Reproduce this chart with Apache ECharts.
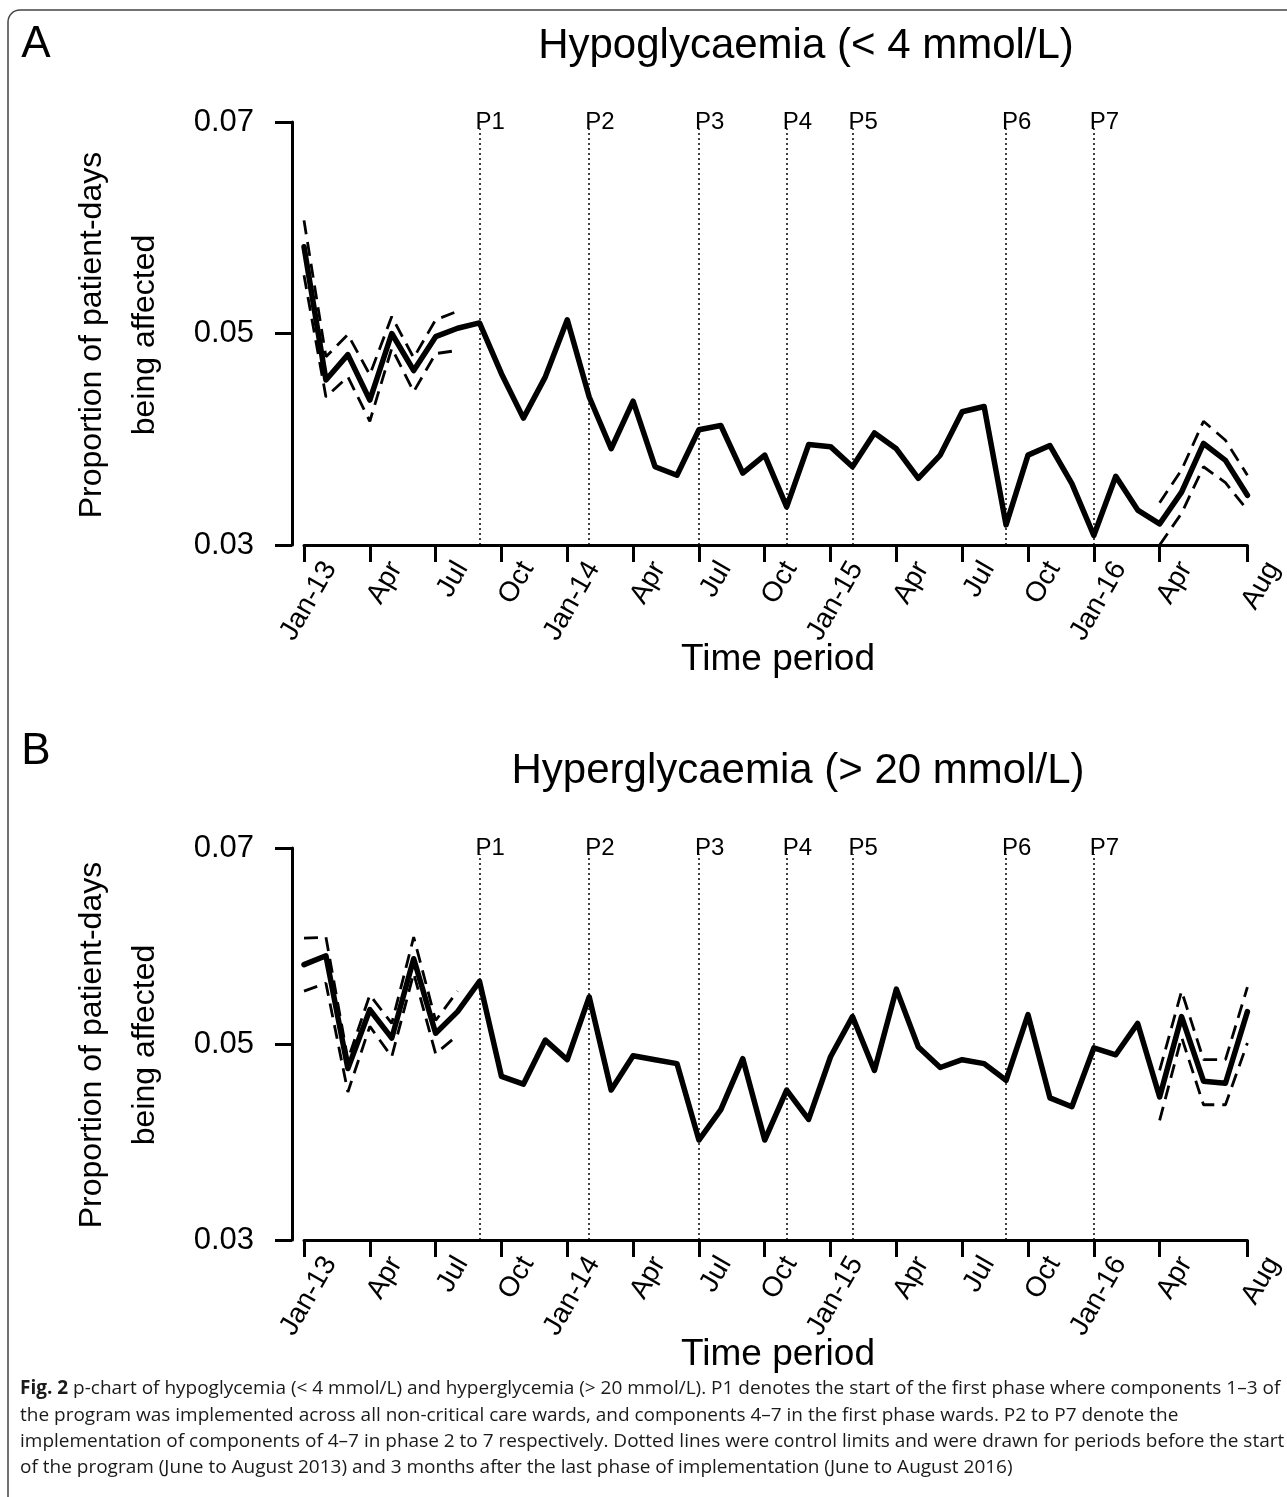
<!DOCTYPE html>
<html>
<head>
<meta charset="utf-8">
<script src="https://cdn.jsdelivr.net/npm/echarts@6/dist/echarts.min.js"></script>
<style>
  html, body { margin: 0; background: #fff; }
  #chart { width: 1287px; height: 1497px; }
</style>
</head>
<body>
<div id="chart"></div>
<script>
// months Jan-13 .. Aug-16
const months = [
  'Jan-13', 'Feb-13', 'Mar-13', 'Apr-13', 'May-13', 'Jun-13', 'Jul-13', 'Aug-13', 'Sep-13', 'Oct-13', 'Nov-13', 'Dec-13',
  'Jan-14', 'Feb-14', 'Mar-14', 'Apr-14', 'May-14', 'Jun-14', 'Jul-14', 'Aug-14', 'Sep-14', 'Oct-14', 'Nov-14', 'Dec-14',
  'Jan-15', 'Feb-15', 'Mar-15', 'Apr-15', 'May-15', 'Jun-15', 'Jul-15', 'Aug-15', 'Sep-15', 'Oct-15', 'Nov-15', 'Dec-15',
  'Jan-16', 'Feb-16', 'Mar-16', 'Apr-16', 'May-16', 'Jun-16', 'Jul-16', 'Aug-16'
];
const tickIndex = [0, 3, 6, 9, 12, 15, 18, 21, 24, 27, 30, 33, 36, 39, 43];
const tickText = ['Jan-13', 'Apr', 'Jul', 'Oct', 'Jan-14', 'Apr', 'Jul', 'Oct', 'Jan-15', 'Apr', 'Jul', 'Oct', 'Jan-16', 'Apr', 'Aug'];

const phaseIndex = [8, 13, 18, 22, 25, 32, 36];
const phaseText = ['P1', 'P2', 'P3', 'P4', 'P5', 'P6', 'P7'];

const _ = null;

// A: hypoglycaemia
const hypoRate = [
  0.0582, 0.0456, 0.0480, 0.0437, 0.0500, 0.0465, 0.0497, 0.0505, 0.0510, 0.0462, 0.0420, 0.0459,
  0.0513, 0.0440, 0.0391, 0.0436, 0.0374, 0.0366, 0.0409, 0.0413, 0.0368, 0.0385, 0.0336, 0.0395,
  0.0393, 0.0374, 0.0406, 0.0391, 0.0363, 0.0385, 0.0426, 0.0431, 0.0319, 0.0385, 0.0394, 0.0358,
  0.0309, 0.0365, 0.0333, 0.0320, 0.0350, 0.0396, 0.0380, 0.0347
];
const hypoUcl = [
  0.0607, 0.0478, 0.0499, 0.0461, 0.0516, 0.0477, 0.0513, 0.0521, _, _, _, _,
  _, _, _, _, _, _, _, _, _, _, _, _,
  _, _, _, _, _, _, _, _, _, _, _, _,
  _, _, _, 0.0340, 0.0371, 0.0417, 0.0399, 0.0366
];
const hypoLcl = [
  0.0555, 0.0440, 0.0459, 0.0417, 0.0486, 0.0445, 0.0481, 0.0484, _, _, _, _,
  _, _, _, _, _, _, _, _, _, _, _, _,
  _, _, _, _, _, _, _, _, _, _, _, _,
  _, _, _, 0.0300, 0.0330, 0.0374, 0.0359, 0.0333
];

// B: hyperglycaemia
const hyperRate = [
  0.0581, 0.0590, 0.0475, 0.0535, 0.0506, 0.0587, 0.0511, 0.0533, 0.0564, 0.0467, 0.0459, 0.0504,
  0.0484, 0.0548, 0.0453, 0.0488, 0.0484, 0.0480, 0.0402, 0.0433, 0.0485, 0.0402, 0.0453, 0.0423,
  0.0487, 0.0528, 0.0473, 0.0556, 0.0497, 0.0476, 0.0484, 0.0480, 0.0463, 0.0530, 0.0445, 0.0436,
  0.0496, 0.0489, 0.0521, 0.0446, 0.0528, 0.0462, 0.0460, 0.0533
];
const hyperUcl = [
  0.0608, 0.0609, 0.0484, 0.0550, 0.0521, 0.0609, 0.0524, 0.0554, _, _, _, _,
  _, _, _, _, _, _, _, _, _, _, _, _,
  _, _, _, _, _, _, _, _, _, _, _, _,
  _, _, _, 0.0473, 0.0554, 0.0484, 0.0484, 0.0558
];
const hyperLcl = [
  0.0554, 0.0562, 0.0451, 0.0518, 0.0487, 0.0572, 0.0490, 0.0509, _, _, _, _,
  _, _, _, _, _, _, _, _, _, _, _, _,
  _, _, _, _, _, _, _, _, _, _, _, _,
  _, _, _, 0.0422, 0.0507, 0.0438, 0.0438, 0.0501
];

const FONT = '"Liberation Sans", Arial, sans-serif';
const CAP_FONT = '"Open Sans", "Noto Sans", sans-serif';
const chart = echarts.init(document.getElementById('chart'));

const grids = [
  { left: 304, width: 946, top: 122, height: 423 },
  { left: 304, width: 946, top: 848, height: 392 }
];

const xAxisFor = k => ({
  type: 'category',
  gridIndex: k,
  data: months,
  boundaryGap: false,
  axisLine: { lineStyle: { color: '#000', width: 3 } },
  axisTick: {
    interval: i => tickIndex.includes(i),
    length: 17,
    lineStyle: { color: '#000', width: 3 }
  },
  axisLabel: {
    interval: i => tickIndex.includes(i),
    formatter: (v, i) => tickText[tickIndex.indexOf(i)],
    rotate: 60,
    margin: 4,
    verticalAlign: 'top',
    padding: [16, 0, 0, 0],
    color: '#000',
    fontSize: 28,
    fontFamily: FONT
  },
  splitLine: { show: false }
});

const yAxisFor = k => ({
  type: 'value',
  gridIndex: k,
  min: 0.03,
  max: 0.07,
  interval: 0.02,
  offset: 12,
  axisLine: { show: true, lineStyle: { color: '#000', width: 3 } },
  axisTick: { show: true, length: 17, lineStyle: { color: '#000', width: 3 } },
  axisLabel: {
    margin: 38,
    color: '#000',
    fontSize: 31,
    fontFamily: FONT,
    formatter: v => v.toFixed(2)
  },
  splitLine: { show: false }
});

const panelSeries = (k, rate, ucl, lcl) => [
  {
    type: 'line',
    xAxisIndex: k,
    yAxisIndex: k,
    data: rate,
    symbol: 'none',
    z: 4,
    lineStyle: { color: '#000', width: 5.5, join: 'round', cap: 'round' },
    markLine: {
      silent: true,
      symbol: 'none',
      animation: false,
      lineStyle: { color: '#000', width: 1.5, type: [2, 3] },
      label: {
        show: true,
        position: 'end',
        distance: -6,
        offset: [-4, 0],
        formatter: '{b}',
        color: '#000',
        fontSize: 24,
        fontFamily: FONT,
        align: 'left'
      },
      data: phaseIndex.map((idx, j) => [
        { coord: [months[idx], 0.03], name: phaseText[j] },
        { coord: [months[idx], 0.0694] }
      ])
    }
  },
  ...[ucl, lcl].map(lim => ({
    type: 'line',
    xAxisIndex: k,
    yAxisIndex: k,
    data: lim,
    symbol: 'none',
    connectNulls: false,
    z: 3,
    lineStyle: { color: '#000', width: 2.8, type: [14, 8] }
  }))
];

const txt = (x, y, text, size, extra) => ({
  type: 'text',
  x, y,
  style: Object.assign({
    text,
    fill: '#000',
    font: `${size}px ${FONT}`,
    align: 'center',
    verticalAlign: 'middle'
  }, extra || {})
});

const yName = cy => [
  Object.assign(txt(92, cy, 'Proportion of patient-days', 32), { rotation: Math.PI / 2 }),
  Object.assign(txt(145, cy, 'being affected', 32), { rotation: Math.PI / 2 })
];

const captionLines = [
  '{b|Fig. 2} p-chart of hypoglycemia (< 4 mmol/L) and hyperglycemia (> 20 mmol/L). P1 denotes the start of the first phase where components 1–3 of',
  'the program was implemented across all non-critical care wards, and components 4–7 in the first phase wards. P2 to P7 denote the',
  'implementation of components of 4–7 in phase 2 to 7 respectively. Dotted lines were control limits and were drawn for periods before the start',
  'of the program (June to August 2013) and 3 months after the last phase of implementation (June to August 2016)'
];

const caption = captionLines.map((line, i) => ({
  type: 'text',
  x: 20,
  y: 1389 + i * 26.3,
  style: {
    text: line,
    fill: '#1a1a1a',
    font: `19px ${CAP_FONT}`,
    align: 'left',
    verticalAlign: 'middle',
    rich: {
      b: { fontWeight: 'bold', fontSize: 19, fontFamily: CAP_FONT, fill: '#1a1a1a' }
    }
  }
}));

chart.setOption({
  animation: false,
  backgroundColor: '#fff',
  grid: grids,
  xAxis: [xAxisFor(0), xAxisFor(1)],
  yAxis: [yAxisFor(0), yAxisFor(1)],
  series: [
    ...panelSeries(0, hypoRate, hypoUcl, hypoLcl),
    ...panelSeries(1, hyperRate, hyperUcl, hyperLcl)
  ],
  graphic: [
    {
      type: 'rect',
      shape: { x: 8, y: 10, width: 1320, height: 1520, r: 12 },
      style: { fill: 'none', stroke: '#444', lineWidth: 1.5 },
      silent: true
    },
    txt(36, 45, 'A', 44),
    txt(806, 46, 'Hypoglycaemia (< 4 mmol/L)', 42),
    txt(778, 660, 'Time period', 37),
    txt(36, 752, 'B', 44),
    txt(798, 771, 'Hyperglycaemia (> 20 mmol/L)', 42),
    txt(778, 1355, 'Time period', 37),
    ...yName(335),
    ...yName(1045),
    ...caption
  ]
});
</script>
</body>
</html>
